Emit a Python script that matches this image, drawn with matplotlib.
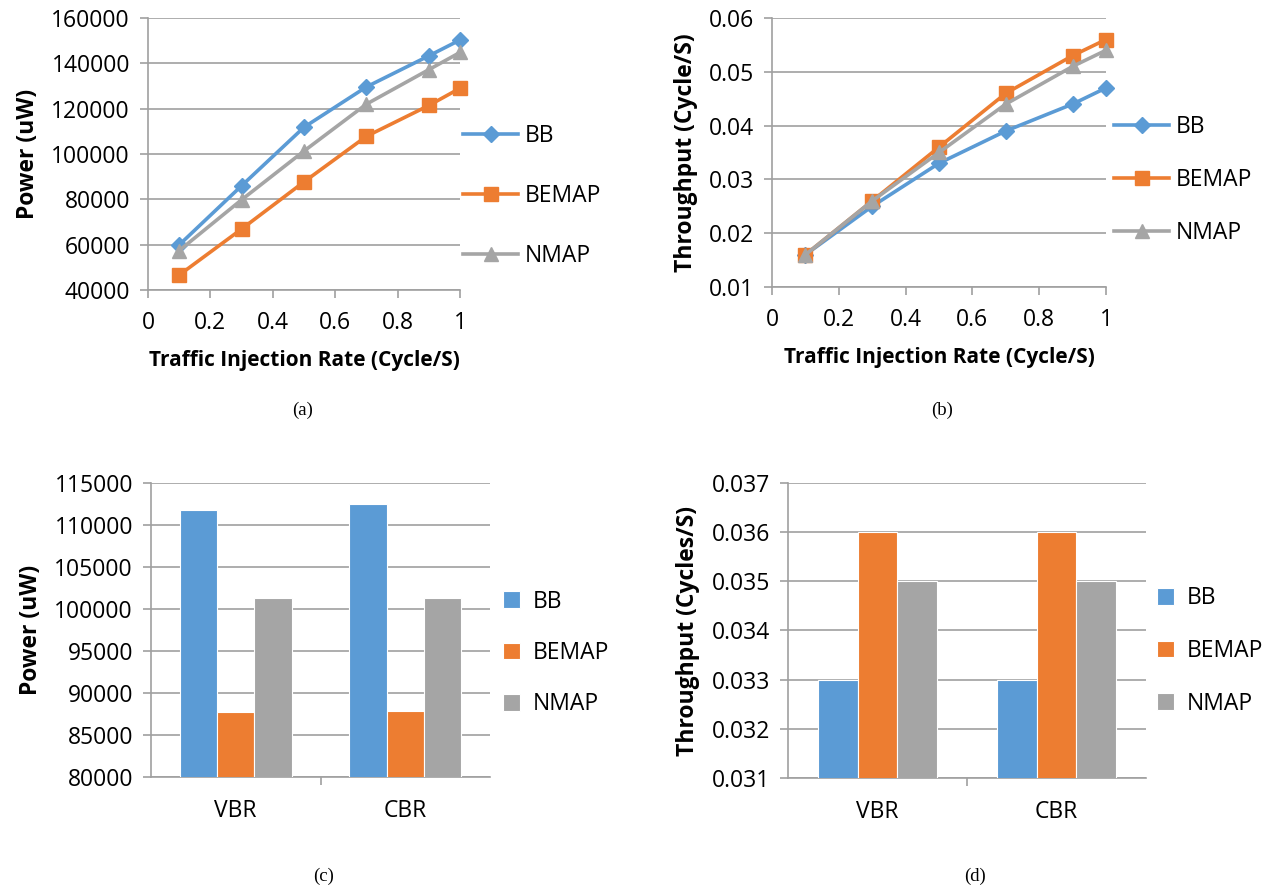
import numpy as np
import matplotlib
matplotlib.use("Agg")
import matplotlib.pyplot as plt
from matplotlib.ticker import FixedLocator

plt.rcParams['font.family'] = ['Open Sans', 'DejaVu Sans']

# ---- data ----
rate = [0.1, 0.3, 0.5, 0.7, 0.9, 1.0]
series = ["BB", "BEMAP", "NMAP"]

power_bb    = [59900, 86000, 111800, 129600, 143300, 150300]
power_bemap = [46600, 66900, 87700, 107800, 121400, 129000]
power_nmap  = [57400, 79800, 101300, 122000, 137200, 144800]

thr_bb    = [0.016, 0.025, 0.033, 0.039, 0.044, 0.047]
thr_bemap = [0.016, 0.026, 0.036, 0.046, 0.053, 0.056]
thr_nmap  = [0.016, 0.026, 0.035, 0.044, 0.051, 0.054]

traffic = ["VBR", "CBR"]
bar_power_bb    = [111800, 112500]
bar_power_bemap = [87700, 87900]
bar_power_nmap  = [101300, 101300]

bar_thr_bb    = [0.033, 0.033]
bar_thr_bemap = [0.036, 0.036]
bar_thr_nmap  = [0.035, 0.035]

colors = ["#5B9BD5", "#ED7D31", "#A5A5A5"]
markers = ["D", "s", "^"]
msizes = [8, 10, 10]
GRID = "#A0A0A0"
FS = 16.5

W, H = 1269, 885
fig = plt.figure(figsize=(W / 100, H / 100), dpi=100)


def box(l, t, r, b):
    return [l / W, 1 - b / H, (r - l) / W, (b - t) / H]


def style(ax):
    for s in ["top", "right"]:
        ax.spines[s].set_visible(False)
    for s in ["left", "bottom"]:
        ax.spines[s].set_color(GRID)
        ax.spines[s].set_linewidth(1.2)
    ax.grid(axis="y", color=GRID, linewidth=1.2)
    ax.set_axisbelow(True)
    ax.tick_params(which="both", colors=GRID, labelcolor="black",
                   labelsize=FS, length=6, width=1.2)


def line_panel(rect, ys, ylim, yticks, yfmt, ylabel, legpos, legspace):
    ax = fig.add_axes(rect)
    style(ax)
    for y, c, m, ms, lab in zip(ys, colors, markers, msizes, series):
        ax.plot(rate, y, color=c, marker=m, markersize=ms, linewidth=2.6,
                label=lab, clip_on=False, zorder=3)
    ax.set_xlim(0, 1)
    ax.set_ylim(*ylim)
    ax.set_xticks([0, 0.2, 0.4, 0.6, 0.8, 1])
    ax.set_xticklabels(["0", "0.2", "0.4", "0.6", "0.8", "1"])
    ax.set_yticks(yticks)
    ax.set_yticklabels([yfmt(v) for v in yticks])
    ax.tick_params(axis="x", pad=9)
    ax.tick_params(axis="y", pad=7)
    ax.set_ylabel(ylabel, fontsize=FS, fontweight="bold", labelpad=8)
    ax.set_xlabel("Traffic Injection Rate (Cycle/S)", fontsize=15,
                  fontweight="bold", labelpad=11)
    ax.legend(loc="center left", bbox_to_anchor=legpos,
              bbox_transform=fig.transFigure, frameon=False, fontsize=FS,
              handlelength=2.4, handletextpad=0.3, labelspacing=legspace,
              borderpad=0, borderaxespad=0)
    return ax


def bar_panel(rect, vals, ylim, yticks, yfmt, ylabel, legpos, legspace):
    ax = fig.add_axes(rect)
    style(ax)
    x = np.arange(len(traffic))
    w = 0.22
    for i, (v, c, lab) in enumerate(zip(vals, colors, series)):
        ax.bar(x + (i - 1) * w, v, width=w, color=c, label=lab,
               edgecolor="white", linewidth=0.8, zorder=3)
    ax.set_xlim(-0.5, 1.5)
    ax.set_ylim(*ylim)
    ax.set_xticks(x)
    ax.set_xticklabels(traffic)
    ax.xaxis.set_minor_locator(FixedLocator([0.5]))
    ax.tick_params(axis="x", which="major", length=0, pad=16)
    ax.set_yticks(yticks)
    ax.set_yticklabels([yfmt(v) for v in yticks])
    ax.tick_params(axis="y", pad=7)
    ax.set_ylabel(ylabel, fontsize=FS, fontweight="bold", labelpad=8)
    ax.legend(loc="center left", bbox_to_anchor=legpos,
              bbox_transform=fig.transFigure, frameon=False, fontsize=FS,
              handlelength=0.75, handleheight=0.75, handletextpad=0.55,
              labelspacing=legspace, borderpad=0, borderaxespad=0)
    return ax


# (a)
line_panel(box(148, 18, 460, 290), [power_bb, power_bemap, power_nmap],
           (40000, 160000), list(range(40000, 160001, 20000)),
           lambda v: "%d" % v, "Power (uW)", (463 / W, 1 - 196 / H), 1.55)
# (b)
line_panel(box(772, 18, 1106, 287), [thr_bb, thr_bemap, thr_nmap],
           (0.01, 0.06), [0.01, 0.02, 0.03, 0.04, 0.05, 0.06],
           lambda v: "%.2f" % v, "Throughput (Cycle/S)",
           (1114 / W, 1 - 180 / H), 1.25)
# (c)
bar_panel(box(151, 483, 490, 777), [bar_power_bb, bar_power_bemap, bar_power_nmap],
          (80000, 115000), list(range(80000, 115001, 5000)),
          lambda v: "%d" % v, "Power (uW)", (503 / W, 1 - 653 / H), 1.2)
# (d)
bar_panel(box(788, 483, 1146, 778), [bar_thr_bb, bar_thr_bemap, bar_thr_nmap],
          (0.031, 0.037), [0.031, 0.032, 0.033, 0.034, 0.035, 0.036, 0.037],
          lambda v: "%.3f" % v, "Throughput (Cycles/S)",
          (1157 / W, 1 - 651 / H), 1.25)

cap = dict(fontsize=13.5, family="Liberation Serif", ha="center", va="center")
fig.text(303 / W, 1 - 410 / H, "(a)", **cap)
fig.text(942 / W, 1 - 410 / H, "(b)", **cap)
fig.text(324 / W, 1 - 876 / H, "(c)", **cap)
fig.text(975 / W, 1 - 876 / H, "(d)", **cap)

fig.savefig("out.png", dpi=100)
